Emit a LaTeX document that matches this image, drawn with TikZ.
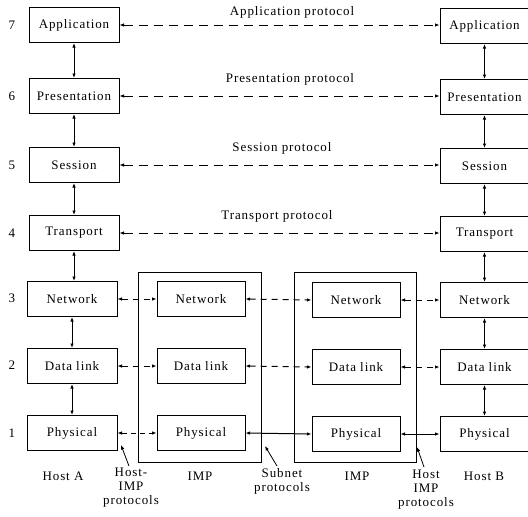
\documentclass[tikz,border=0pt]{standalone}
\usepackage{fontspec}
\setmainfont{Liberation Serif}[LetterSpace=7]
\usetikzlibrary{arrows.meta}
\begin{document}
\begin{tikzpicture}[x=1pt,y=-1pt,
  every node/.style={font=\fontsize{13}{14}\selectfont, inner sep=0pt},
  layer/.style={draw, line width=1pt, minimum width=90pt, minimum height=35pt},
  rlayer/.style={layer, minimum width=89pt},
  imp/.style={layer, minimum width=88pt},
  outer/.style={draw, line width=1pt},
  tip/.style={-{Latex[length=4.5pt,width=3.5pt]}},
  dbl/.style={{Latex[length=4.5pt,width=3.5pt]}-{Latex[length=4.5pt,width=3.5pt]}, line width=1pt},
  dsh/.style={dbl, dash pattern=on 9pt off 6pt},
  lbl/.style={align=center},
  num/.style={}]
\useasboundingbox (0,0) rectangle (528,517);
\clip (0,0) rectangle (528,517);
% IMP outer boxes
\node[outer, minimum width=123pt, minimum height=190pt] (imp1) at (199.5,367) {};
\node[outer, minimum width=122pt, minimum height=190pt] (imp2) at (355,367) {};
% left host
\node[layer] (la) at (74,25) {Application};
\node[layer] (lp) at (74,96) {Presentation};
\node[layer] (ls) at (74,165) {Session};
\node[layer] (lt) at (74,233) {Transport};
\node[layer] (ln) at (72,299) {Network};
\node[layer] (ld) at (72,366) {Data link};
\node[layer] (lh) at (72,433) {Physical};
% right host
\node[rlayer] (ra) at (484.5,26) {Application};
\node[rlayer] (rp) at (484.5,97) {Presentation};
\node[rlayer] (rs) at (484.5,166) {Session};
\node[rlayer] (rt) at (484.5,234) {Transport};
\node[rlayer] (rn) at (484.5,300) {Network};
\node[rlayer] (rd) at (484.5,367) {Data link};
\node[rlayer] (rh) at (484.5,434) {Physical};
% IMP 1
\node[imp] (an) at (201,299) {Network};
\node[imp] (ad) at (201,366) {Data link};
\node[imp] (ah) at (201,433) {Physical};
% IMP 2
\node[imp] (bn) at (356,300) {Network};
\node[imp] (bd) at (356,367) {Data link};
\node[imp] (bh) at (356,434) {Physical};
% layer numbers
\node[num] (n7) at (12,25) {7};
\node[num] (n6) at (12,96) {6};
\node[num] (n5) at (12,165) {5};
\node[num] (n4) at (12,233) {4};
\node[num] (n3) at (12,298) {3};
\node[num] (n2) at (12,365) {2};
\node[num] (n1) at (12,433) {1};
% vertical arrows
\draw[dbl] (la) -- (lp);
\draw[dbl] (lp) -- (ls);
\draw[dbl] (ls) -- (lt);
\draw[dbl] (lt.south) -- (ln.north -| lt.south);
\draw[dbl] (ln) -- (ld);
\draw[dbl] (ld) -- (lh);
\draw[dbl] (ra) -- (rp);
\draw[dbl] (rp) -- (rs);
\draw[dbl] (rs) -- (rt);
\draw[dbl] (rt) -- (rn);
\draw[dbl] (rn) -- (rd);
\draw[dbl] (rd) -- (rh);
% peer protocols
\draw[dsh] (la.east) -- (ra.west |- la.east);
\draw[dsh] (lp.east) -- (rp.west |- lp.east);
\draw[dsh] (ls.east) -- (rs.west |- ls.east);
\draw[dsh] (lt.east) -- (rt.west |- lt.east);
\node (pa) at (292,12) {Application protocol};
\node (pp) at (290,79) {Presentation protocol};
\node (ps) at (282,148) {Session protocol};
\node (pt) at (277,216) {Transport protocol};
% lower layers
\draw[dbl, dash pattern=on 6pt off 5pt] (ln.east) -- (an.west);
\draw[dbl, dash pattern=on 6pt off 5pt] (an.east) -- (bn.west);
\draw[dbl, dash pattern=on 6pt off 5pt] (bn.east) -- (rn.west);
\draw[dbl, dash pattern=on 6pt off 5pt] (ld.east) -- (ad.west);
\draw[dbl, dash pattern=on 6pt off 5pt] (ad.east) -- (bd.west);
\draw[dbl, dash pattern=on 6pt off 5pt] (bd.east) -- (rd.west);
\draw[dbl, dash pattern=on 5pt off 4pt] (lh.east) -- (ah.west);
\draw[dbl] (ah.east) -- (bh.west);
\draw[dbl] (bh.east) -- (rh.west);
% bottom labels
\node[lbl] (hA) at (63,476) {Host A};
\node[lbl, anchor=north] (hip1) at (131,468) {Host-\\IMP\\protocols};
\node[lbl] (imp1l) at (200,476) {IMP};
\node[lbl, anchor=north] (sub) at (282,468) {Subnet\\protocols};
\node[lbl] (imp2l) at (357,476) {IMP};
\node[lbl, anchor=north] (hip2) at (426,470) {Host\\IMP\\protocols};
\node[lbl] (hB) at (484,476) {Host B};
% pointer lines
\coordinate (p1) at (121,445);
\coordinate (p2) at (265,446);
\coordinate (p3) at (417,447);
\draw[tip, line width=0.8pt] (hip1.north) ++(-2,-2) -- (p1);
\draw[tip, line width=0.8pt] (sub.north) ++(-5,-2) -- (p2);
\draw[tip, line width=0.8pt] (hip2.north) ++(-2,-3) -- (p3);
\end{tikzpicture}
\end{document}
